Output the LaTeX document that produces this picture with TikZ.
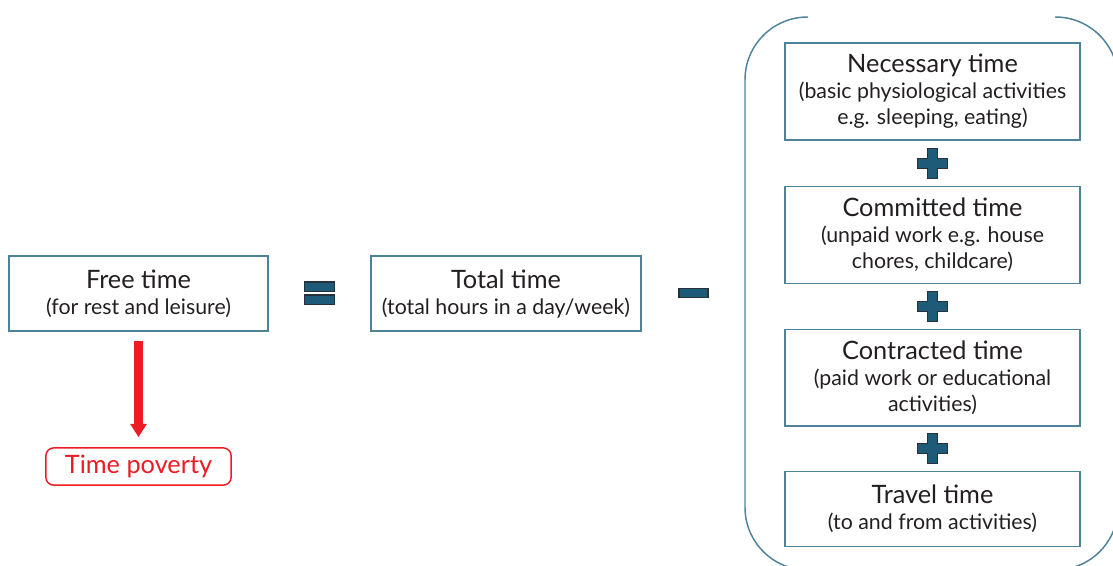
\documentclass[tikz,border=0pt]{standalone}
\usepackage{fontspec}
\setmainfont{Lato}
\usetikzlibrary{positioning,calc,arrows.meta}
\definecolor{boxline}{HTML}{4E8299}
\definecolor{textgray}{HTML}{231F20}
\definecolor{povred}{HTML}{ED1C24}
\definecolor{signfill}{HTML}{1D5B79}
\definecolor{signline}{HTML}{263238}
\newcommand{\boxtitle}[1]{{\fontsize{19}{19.5}\selectfont #1}}
\tikzset{main node/.style={rectangle,draw=boxline,line width=1.1pt,align=center,text=textgray,inner sep=2pt,font=\fontsize{16}{19.5}\selectfont}}
\tikzset{poverty node/.style={rectangle,rounded corners=6pt,draw=povred,line width=1.1pt,text=povred,inner sep=2pt,font=\fontsize{19}{19.5}\selectfont}}
\tikzset{sign/.style={fill=signfill,draw=signline,line width=0.9pt}}
\tikzset{plus sign/.pic={\path[sign] (-5,-15) -- (5,-15) -- (5,-5) -- (15,-5) -- (15,5) -- (5,5) -- (5,15) -- (-5,15) -- (-5,5) -- (-15,5) -- (-15,-5) -- (-5,-5) -- cycle;}}

\begin{document}
\begin{tikzpicture}[x=0.75pt,y=-0.75pt]
    \useasboundingbox (0,0) rectangle (1113,565);

    \node[main node,minimum width=194pt,minimum height=56pt] (free) at (138.5,293.5) {\boxtitle{Free time}\\(for rest and leisure)};
    \node[main node,minimum width=202.5pt,minimum height=56pt] (total) at (506,293.5) {\boxtitle{Total time}\\(total hours in a day/week)};
    \node[poverty node,minimum width=139pt,minimum height=28pt] (pov) at (138.5,466.5) {Time poverty};

    \node[main node,minimum width=221pt,minimum height=72.5pt] (nec) at (932.5,91.5) {\boxtitle{Necessary time}\\(basic physiological activities\\e.g. sleeping, eating)};
    \node[main node,minimum width=221pt,minimum height=72.5pt] (com) [below = 34pt of nec] {\boxtitle{Committed time}\\(unpaid work e.g. house\\chores, childcare)};
    \node[main node,minimum width=221pt,minimum height=72.5pt] (con) [below = 33.5pt of com] {\boxtitle{Contracted time}\\(paid work or educational\\activities)};
    \node[main node,minimum width=221pt,minimum height=56pt] (trv) [below = 33pt of con] {\boxtitle{Travel time}\\(to and from activities)};

    % operators
    \coordinate (eq) at ($(free.east)!0.5!(total.west)$);
    \path[sign] ($(eq)+(-15,-11.5)$) rectangle ($(eq)+(15,-2)$);
    \path[sign] ($(eq)+(-15,1.5)$) rectangle ($(eq)+(15,11)$);
    \coordinate (mi) at (693.5,293);
    \path[sign] ($(mi)+(-14.5,-4.5)$) rectangle ($(mi)+(14.5,4.5)$);
    \pic at ($(nec.south)!0.5!(com.north)$) {plus sign};
    \pic at ($(com.south)!0.5!(con.north)$) {plus sign};
    \pic at ($(con.south)!0.5!(trv.north)$) {plus sign};

    % bracket round the parts
    \draw[boxline,line width=1.1pt,rounded corners=47pt] (808,17) -- (745,17) -- (745,570) -- (1118,570) -- (1118,17) -- (1055,17);

    \draw[povred,line width=6.75pt,-{Triangle[length=10pt,width=12pt]},shorten <=6.75pt,shorten >=7.5pt] (free) -- (pov);
\end{tikzpicture}
\end{document}
